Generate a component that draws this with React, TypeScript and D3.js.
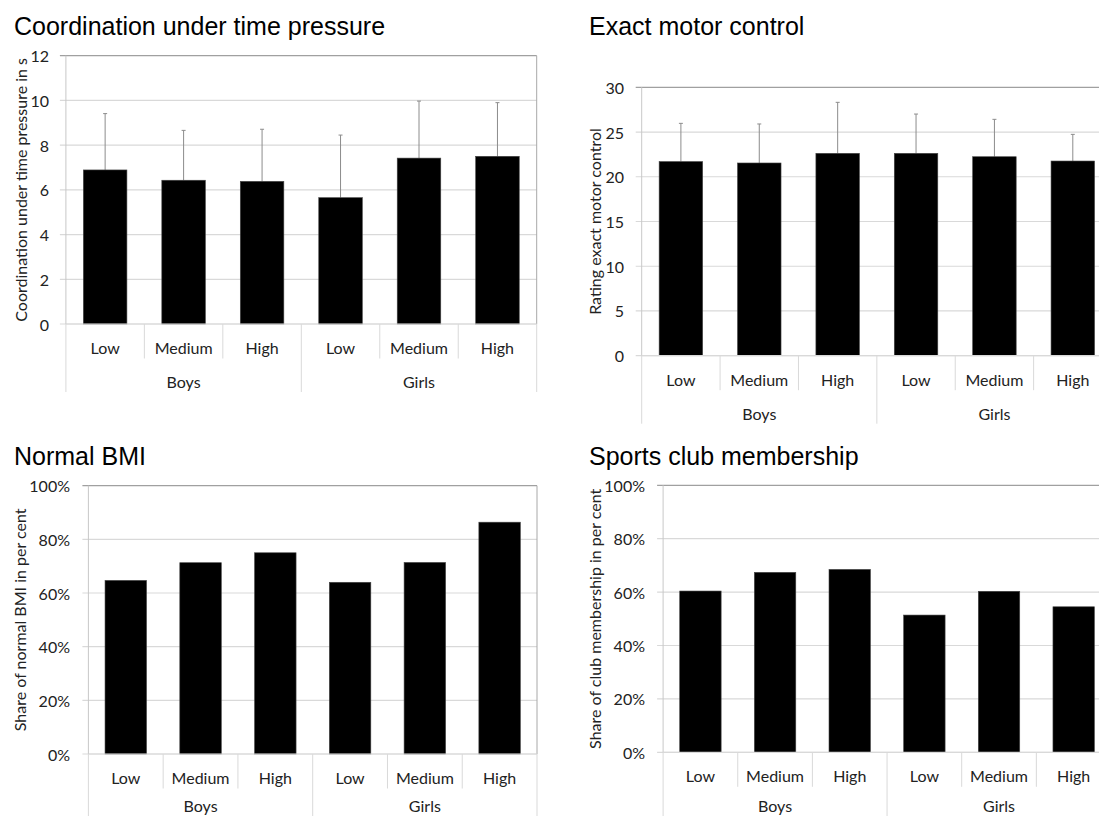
import React from "react";
import * as d3 from "d3";

const subCategories = ["Low", "Medium", "High", "Low", "Medium", "High"];
const groups = ["Boys", "Girls"];

const coordinationMeans = [6.89, 6.43, 6.38, 5.65, 7.42, 7.5];
const coordinationSD = [2.52, 2.23, 2.33, 2.8, 2.55, 2.4];
const coordinationTicks = [0, 2, 4, 6, 8, 10, 12];

const motorMeans = [21.7, 21.54, 22.62, 22.62, 22.24, 21.76];
const motorSD = [4.27, 4.36, 5.7, 4.39, 4.18, 2.98];
const motorTicks = [0, 5, 10, 15, 20, 25, 30];

const bmiShare = [64.7, 71.3, 75.0, 64.0, 71.4, 86.4];
const clubShare = [60.4, 67.4, 68.5, 51.4, 60.3, 54.5];
const percentTicks = [0, 20, 40, 60, 80, 100];

const TITLE_FONT = "'Liberation Sans', Arial, sans-serif";
const AXIS_FONT = "Lato, 'Open Sans', sans-serif";
const PAGE_H = 816;

type PanelProps = {
  title: string;
  yTitle: string;
  values: number[];
  errors?: number[];
  ticks: number[];
  fmt: (v: number) => string;
  left: number;
  right: number;
  top: number;
  zero: number;
  tickRight: number;
  yTitleX: number;
  titleX: number;
  titleY: number;
};

function Panel(p: PanelProps) {
  const n = p.values.length;
  const idx = d3.range(n).map(String);
  const x = d3
    .scaleBand<string>()
    .domain(idx)
    .range([p.left, p.right])
    .paddingInner(0.445)
    .paddingOuter(0.2225);
  const step = x.step();
  const y = d3
    .scaleLinear()
    .domain([0, p.ticks[p.ticks.length - 1]])
    .range([p.zero, p.top]);
  const catStart = x(idx[0])! - (step - x.bandwidth()) / 2;
  const bounds = d3.range(n + 1).map((i) => catStart + i * step);
  const perGroup = n / groups.length;
  const groupY = Math.min(p.zero + 57.5, PAGE_H - 11);

  return (
    <g>
      <text
        x={p.titleX}
        y={p.titleY}
        fontFamily={TITLE_FONT}
        fontSize={25}
        fill="#000"
      >
        {p.title}
      </text>
      {p.ticks.map((t) => (
        <line
          key={"g" + t}
          x1={p.left - 6}
          x2={p.right}
          y1={y(t)}
          y2={y(t)}
          stroke={t === p.ticks[p.ticks.length - 1] ? "#a0a0a0" : "#d9d9d9"}
          strokeWidth={1.2}
        />
      ))}
      <line x1={p.left} x2={p.left} y1={p.top} y2={p.zero} stroke="#c8c8c8" strokeWidth={1} />
      <line x1={p.right} x2={p.right} y1={p.top} y2={p.zero} stroke="#a8a8a8" strokeWidth={1} />
      {p.ticks.map((t) => (
        <text
          key={"t" + t}
          x={p.tickRight}
          y={y(t)}
          textAnchor="end"
          dominantBaseline="central"
          fontFamily={AXIS_FONT}
          fontSize={16}
          fill="#222"
        >
          {p.fmt(t)}
        </text>
      ))}
      <text
        transform={`translate(${p.yTitleX},${(p.top + p.zero) / 2}) rotate(-90)`}
        textAnchor="middle"
        dominantBaseline="central"
        fontFamily={AXIS_FONT}
        fontSize={16}
        fill="#222"
      >
        {p.yTitle}
      </text>
      {p.errors &&
        p.values.map((v, i) => {
          const cx = x(idx[i])! + x.bandwidth() / 2;
          const yt = y(v + p.errors![i]);
          return (
            <g key={"e" + i}>
              <line x1={cx} x2={cx} y1={y(v)} y2={yt} stroke="#8c8c8c" strokeWidth={1} />
              <line x1={cx - 2} x2={cx + 2} y1={yt} y2={yt} stroke="#8c8c8c" strokeWidth={1} />
            </g>
          );
        })}
      {p.values.map((v, i) => (
        <rect
          key={"b" + i}
          x={x(idx[i])!}
          y={y(v)}
          width={x.bandwidth()}
          height={p.zero - y(v)}
          fill="#000"
          stroke="#444"
          strokeWidth={0.6}
        />
      ))}
      <line x1={p.left} x2={p.right} y1={p.zero} y2={p.zero} stroke="#d9d9d9" strokeWidth={1.2} />
      {bounds.map((bx, i) => {
        const isGroup = i % perGroup === 0;
        return (
          <line
            key={"d" + i}
            x1={bx}
            x2={bx}
            y1={p.zero}
            y2={p.zero + (isGroup ? 68 : 34.5)}
            stroke="#d9d9d9"
            strokeWidth={1}
          />
        );
      })}
      {subCategories.map((s, i) => (
        <text
          key={"s" + i}
          x={x(idx[i])! + x.bandwidth() / 2}
          y={p.zero + 23.5}
          textAnchor="middle"
          dominantBaseline="central"
          fontFamily={AXIS_FONT}
          fontSize={16}
          fill="#222"
        >
          {s}
        </text>
      ))}
      {groups.map((g, gi) => (
        <text
          key={"gr" + gi}
          x={(bounds[gi * perGroup] + bounds[(gi + 1) * perGroup]) / 2}
          y={groupY}
          textAnchor="middle"
          dominantBaseline="central"
          fontFamily={AXIS_FONT}
          fontSize={16}
          fill="#222"
        >
          {g}
        </text>
      ))}
    </g>
  );
}

export default function App() {
  const pct = (v: number) => `${v}%`;
  const num = (v: number) => `${v}`;
  return (
    <svg
      width={1099}
      height={816}
      style={{ position: "absolute", left: 0, top: 0, background: "#fff" }}
    >
      <rect width={1099} height={816} fill="#fff" />
      <Panel
        title="Coordination under time pressure"
        yTitle="Coordination under time pressure in s"
        values={coordinationMeans}
        errors={coordinationSD}
        ticks={coordinationTicks}
        fmt={num}
        left={65.9}
        right={536.7}
        top={55.7}
        zero={324}
        tickRight={49}
        yTitleX={20}
        titleX={14}
        titleY={35}
      />
      <Panel
        title="Exact motor control"
        yTitle="Rating exact motor control"
        values={motorMeans}
        errors={motorSD}
        ticks={motorTicks}
        fmt={num}
        left={641.7}
        right={1112}
        top={87.3}
        zero={355.7}
        tickRight={624}
        yTitleX={594}
        titleX={589}
        titleY={35}
      />
      <Panel
        title="Normal BMI"
        yTitle="Share of normal BMI in per cent"
        values={bmiShare}
        ticks={percentTicks}
        fmt={pct}
        left={88.4}
        right={537}
        top={485.7}
        zero={754}
        tickRight={70}
        yTitleX={19.6}
        titleX={14}
        titleY={465}
      />
      <Panel
        title="Sports club membership"
        yTitle="Share of club membership in per cent"
        values={clubShare}
        ticks={percentTicks}
        fmt={pct}
        left={663.1}
        right={1111}
        top={485.3}
        zero={752.3}
        tickRight={645}
        yTitleX={594}
        titleX={589}
        titleY={465}
      />
    </svg>
  );
}
